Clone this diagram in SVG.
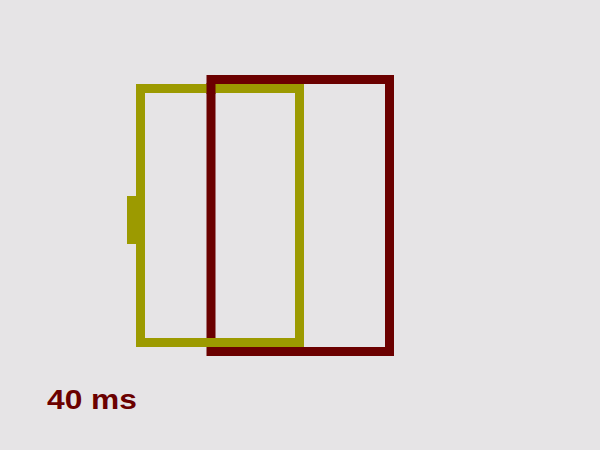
<svg xmlns="http://www.w3.org/2000/svg" width="600" height="450" viewBox="0 0 600 450">
<style>
.red{fill:none;stroke:#6b0000;stroke-width:9}
.olive{fill:none;stroke:#9c9a00;stroke-width:9}
.lbl{font-family:"Liberation Sans",Arial,sans-serif;font-weight:bold;font-size:28.5px;fill:#6b0000}
</style>
<rect width="600" height="450" fill="#e6e4e6"/>
<g id="frame-red">
<rect class="red" x="211" y="79.5" width="178.5" height="272"/>
</g>
<g id="frame-olive">
<rect class="olive" x="140.5" y="88.5" width="159" height="254"/>
<rect x="127" y="196" width="18" height="48" fill="#9c9a00"/>
</g>
<g id="overlap">
<rect x="206.5" y="83" width="9" height="11" fill="#6b0000"/>
</g>
<text class="lbl" x="47" y="408.5" textLength="90" lengthAdjust="spacingAndGlyphs">40 ms</text>
</svg>
